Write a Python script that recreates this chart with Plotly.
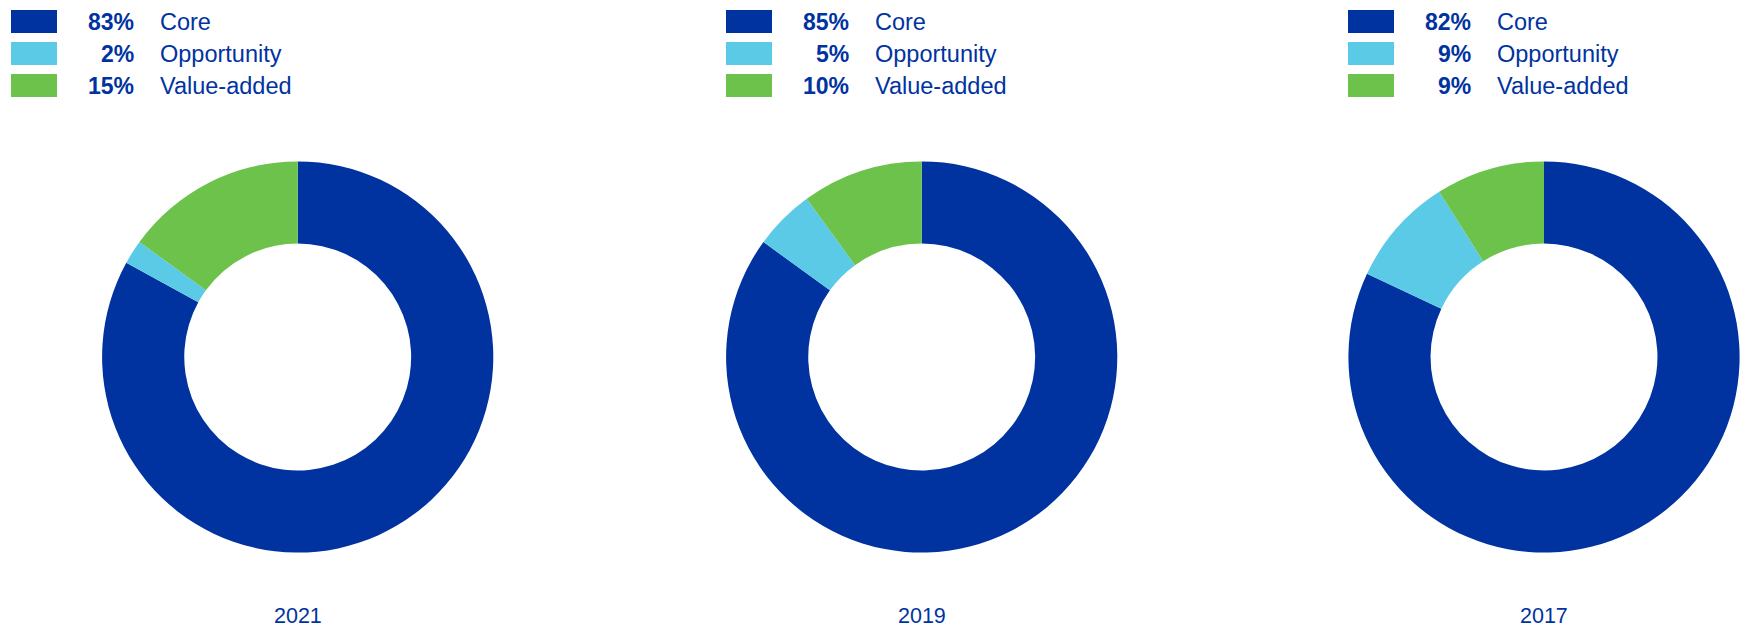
import plotly.graph_objects as go

# Portfolio allocation by investment style, per survey year
years = ["2021", "2019", "2017"]
categories = ["Core", "Opportunity", "Value-added"]
share_2021 = [83, 2, 15]
share_2019 = [85, 5, 10]
share_2017 = [82, 9, 9]
shares = [share_2021, share_2019, share_2017]

colors = ["#0033A0", "#5BCAE6", "#6CC24A"]
text_color = "#0033A0"
font_family = "Arial, 'Liberation Sans', sans-serif"

W, H = 1751, 630
centers_x = [297.7, 921.7, 1544.0]   # donut centres, px from left
center_y = 357.0                     # px from top
radius = 195.6
legend_left = [11, 726, 1348]

fig = go.Figure()
shapes = []
annotations = []

for i, (year, vals) in enumerate(zip(years, shares)):
    cx = centers_x[i]
    x0 = (cx - radius) / W
    x1 = (cx + radius) / W
    yc = H - center_y
    y0 = (yc - radius) / H
    y1 = (yc + radius) / H
    fig.add_trace(go.Pie(
        labels=categories,
        values=vals,
        hole=0.58,
        sort=False,
        direction="clockwise",
        rotation=0,
        marker=dict(colors=colors, line=dict(width=0)),
        textinfo="none",
        hoverinfo="label+percent",
        showlegend=False,
        domain=dict(x=[x0, x1], y=[y0, y1]),
    ))

    # year caption under each donut
    annotations.append(dict(
        x=cx / W, y=1 - 615.5 / H, xref="paper", yref="paper",
        text=year, showarrow=False, xanchor="center", yanchor="middle",
        font=dict(family=font_family, size=21.5, color=text_color),
    ))

    # legend block: swatch, bold percentage, category name
    lx = legend_left[i]
    for j, (cat, v) in enumerate(zip(categories, vals)):
        ymid = 21.5 + 32 * j
        shapes.append(dict(
            type="rect", xref="paper", yref="paper",
            x0=lx / W, x1=(lx + 46) / W,
            y0=1 - (ymid + 11.5) / H, y1=1 - (ymid - 11.5) / H,
            fillcolor=colors[j], line=dict(width=0),
        ))
        annotations.append(dict(
            x=(lx + 125) / W, y=1 - (ymid + 0.5) / H, xref="paper", yref="paper",
            text=f"<b>{v}%</b>", showarrow=False,
            xanchor="right", yanchor="middle",
            font=dict(family=font_family, size=23, color=text_color),
        ))
        annotations.append(dict(
            x=(lx + 147) / W, y=1 - (ymid + 0.5) / H, xref="paper", yref="paper",
            text=cat, showarrow=False,
            xanchor="left", yanchor="middle",
            font=dict(family=font_family, size=23.5, color=text_color),
        ))

fig.update_layout(
    width=W, height=H,
    margin=dict(l=0, r=0, t=0, b=0),
    paper_bgcolor="white",
    plot_bgcolor="white",
    shapes=shapes,
    annotations=annotations,
)

fig.write_html("out.html")
